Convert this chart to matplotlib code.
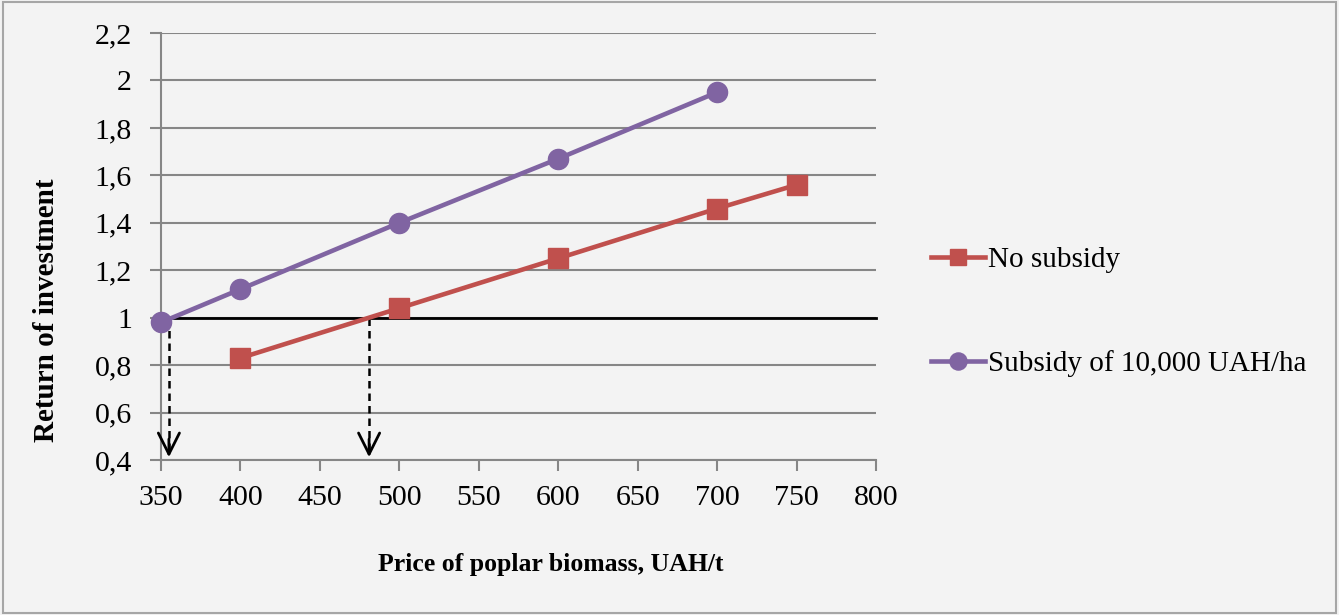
import matplotlib.pyplot as plt
from matplotlib.patches import Rectangle
from matplotlib.ticker import FuncFormatter, MultipleLocator

plt.rcParams['font.family'] = ['Liberation Serif', 'DejaVu Serif']

# Data
price_no_subsidy = [400, 500, 600, 700, 750]
roi_no_subsidy = [0.83, 1.04, 1.25, 1.46, 1.56]
price_subsidy = [350, 400, 500, 600, 700]
roi_subsidy = [0.98, 1.12, 1.40, 1.67, 1.95]
breakeven_prices = [355, 481]

red = '#c0504d'
purple = '#8064a2'
grid_gray = '#868686'

fig = plt.figure(figsize=(13.39, 6.15), dpi=100)
fig.patch.set_facecolor('#f3f3f3')
ax = fig.add_axes([0.1202, 0.252, 0.534, 0.6943])
ax.set_facecolor('#f3f3f3')

# Frame around the whole chart
fig.patches.append(Rectangle((0.002, 0.003), 0.996, 0.994, transform=fig.transFigure,
                             fill=False, edgecolor='#a6a6a6', linewidth=1.5))

ax.set_xlim(350, 800)
ax.set_ylim(0.4, 2.2)
ax.xaxis.set_major_locator(MultipleLocator(50))
ax.yaxis.set_major_locator(MultipleLocator(0.2))
ax.yaxis.set_major_formatter(FuncFormatter(lambda v, p: ('%.1f' % v).rstrip('0').rstrip('.').replace('.', ',')))

ax.grid(axis='y', color=grid_gray, linewidth=1.5)
ax.set_axisbelow(True)
for side in ['top', 'right']:
    ax.spines[side].set_visible(False)
for side in ['left', 'bottom']:
    ax.spines[side].set_color(grid_gray)
    ax.spines[side].set_linewidth(1.5)
ax.tick_params(axis='both', colors=grid_gray, length=8, width=1.5, labelsize=21.5,
               labelcolor='black')
ax.tick_params(axis='x', pad=10)
ax.tick_params(axis='y', pad=13)

# Break-even line and arrows
ax.plot([345, 800], [1, 1], color='black', linewidth=2, clip_on=False, zorder=2)
for xb in breakeven_prices:
    ax.plot([xb, xb], [1, 0.42], color='black', linewidth=1.8, linestyle=(0, (3, 2)), zorder=2)
    ax.annotate('', xy=(xb, 0.4), xytext=(xb, 0.5),
                arrowprops=dict(arrowstyle='->', color='black', lw=2, mutation_scale=38))

ax.plot(price_no_subsidy, roi_no_subsidy, color=red, linewidth=3.3, marker='s', markersize=14,
        label='No subsidy', zorder=3, clip_on=False)
ax.plot(price_subsidy, roi_subsidy, color=purple, linewidth=3.3, marker='o', markersize=14.5,
        label='Subsidy of 10,000 UAH/ha', zorder=3, clip_on=False)

ax.set_xlabel('Price of poplar biomass, UAH/t', fontsize=18.5, fontweight='bold')
ax.set_ylabel('Return of investment', fontsize=21, fontweight='bold')
ax.xaxis.set_label_coords(0.545, -0.218)
ax.yaxis.set_label_coords(-0.141, 0.35)

leg = fig.legend(loc='center left', bbox_to_anchor=(0.676, 0.493), frameon=False, fontsize=21,
                 handlelength=1.85, handletextpad=0.1, labelspacing=2.65, markerscale=0.85)

plt.savefig('out.png', dpi=100, facecolor=fig.get_facecolor())
